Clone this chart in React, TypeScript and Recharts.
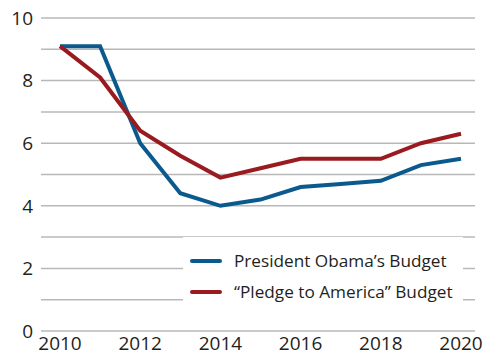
import React from 'react'
import { LineChart, Line, XAxis, YAxis, CartesianGrid, Legend } from 'recharts'

const years = [2010, 2011, 2012, 2013, 2014, 2015, 2016, 2017, 2018, 2019, 2020]
const obama = [9.1, 9.1, 6.0, 4.4, 4.0, 4.2, 4.6, 4.7, 4.8, 5.3, 5.5]
const pledge = [9.1, 8.1, 6.4, 5.6, 4.9, 5.2, 5.5, 5.5, 5.5, 6.0, 6.3]
const yTicks = [0, 1, 2, 3, 4, 5, 6, 7, 8, 9, 10]
const xTicks = [2010, 2012, 2014, 2016, 2018, 2020]

const BLUE = '#0b5a8e'
const RED = '#9a1b1f'
const INK = '#231f20'
const FONT = '"Open Sans", sans-serif'

const data = years.map((year, i) => ({ year, obama: obama[i], pledge: pledge[i] }))

const legendItems = [
  { label: 'President Obama\u2019s Budget', color: BLUE },
  { label: '\u201cPledge to America\u201d Budget', color: RED },
]

function BudgetLegend() {
  return (
    <div style={{ background: '#fff', padding: '8px 0', fontFamily: FONT }}>
      {legendItems.map((item) => (
        <div
          key={item.label}
          style={{ display: 'flex', alignItems: 'center', height: 31, paddingLeft: 7 }}
        >
          <span
            style={{
              display: 'inline-block',
              width: 32,
              height: 4,
              borderRadius: 2,
              background: item.color,
              marginRight: 12,
            }}
          />
          <span style={{ fontSize: 17.2, color: INK }}>{item.label}</span>
        </div>
      ))}
    </div>
  )
}

export default function App() {
  const tick = { fontSize: 19, fill: INK, fontFamily: FONT }
  return (
    <div style={{ position: 'absolute', left: 0, top: 0, width: 496, height: 356, background: '#fff' }}>
      <LineChart width={496} height={356} data={data} margin={{ top: 18, right: 21, left: 0, bottom: 0 }}>
        <CartesianGrid vertical={false} stroke="#b8b8b8" strokeWidth={1.5} />
        <XAxis
          dataKey="year"
          type="number"
          domain={[2010, 2020]}
          ticks={xTicks}
          padding={{ left: 19, right: 14 }}
          axisLine={false}
          tickLine={false}
          tickMargin={0}
          tick={tick}
          height={25}
        />
        <YAxis
          domain={[0, 10]}
          ticks={yTicks}
          interval={0}
          tickFormatter={(v: number) => (v % 2 === 0 ? String(v) : '')}
          axisLine={false}
          tickLine={false}
          tick={tick}
          width={41}
        />
        <Legend
          layout="vertical"
          align="center"
          verticalAlign="middle"
          content={<BudgetLegend />}
          wrapperStyle={{ left: 183, top: 237, width: 280 }}
        />
        <Line
          dataKey="obama"
          stroke={BLUE}
          strokeWidth={4}
          dot={false}
          isAnimationActive={false}
        />
        <Line
          dataKey="pledge"
          stroke={RED}
          strokeWidth={4}
          dot={false}
          isAnimationActive={false}
        />
      </LineChart>
    </div>
  )
}
